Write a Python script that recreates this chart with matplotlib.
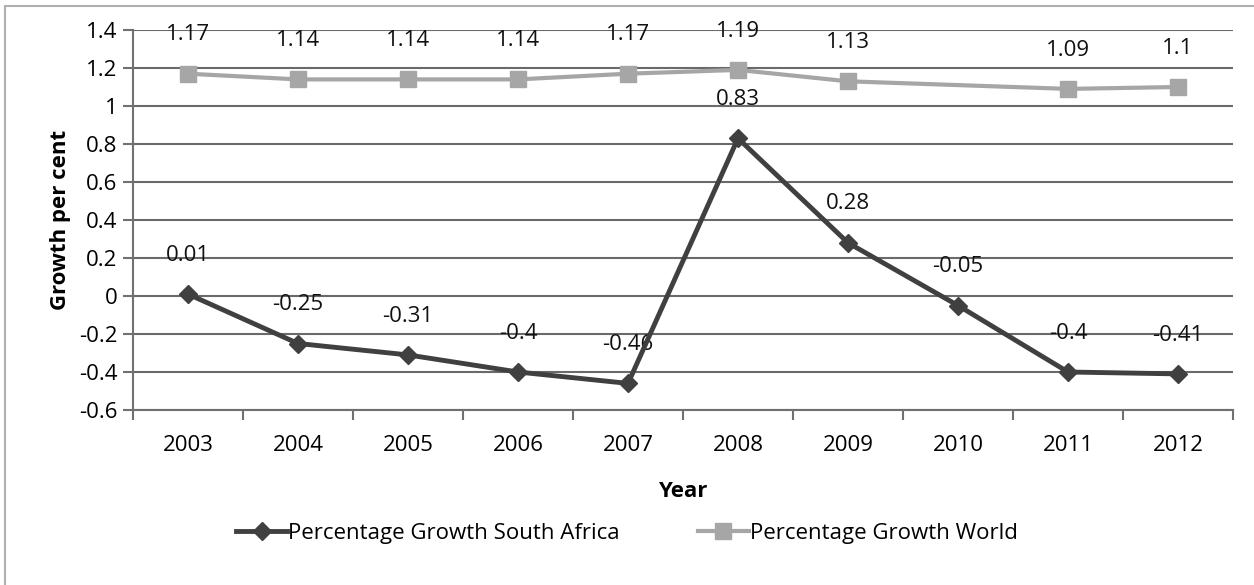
import matplotlib.pyplot as plt
from matplotlib.patches import Rectangle

years = ['2003', '2004', '2005', '2006', '2007', '2008', '2009', '2010', '2011', '2012']
south_africa = [0.01, -0.25, -0.31, -0.4, -0.46, 0.83, 0.28, -0.05, -0.4, -0.41]
world = [1.17, 1.14, 1.14, 1.14, 1.17, 1.19, 1.13, None, 1.09, 1.1]
world_line = [1.17, 1.14, 1.14, 1.14, 1.17, 1.19, 1.13, 1.11, 1.09, 1.1]
yticks = [-0.6, -0.4, -0.2, 0, 0.2, 0.4, 0.6, 0.8, 1, 1.2, 1.4]
ytick_labels = ['-0.6', '-0.4', '-0.2', '0', '0.2', '0.4', '0.6', '0.8', '1', '1.2', '1.4']

plt.rcParams['font.family'] = ['Open Sans', 'DejaVu Sans']
fs = 16

fig = plt.figure(figsize=(12.54, 5.85), dpi=100)
ax = fig.add_axes([133 / 1254, 1 - 410 / 585, 1100 / 1254, 380 / 585])

# border round the chart
fig.patches.append(Rectangle((5 / 1254, -0.01), 1.02, 1 - 6 / 585 + 0.01,
                             transform=fig.transFigure, fill=False,
                             edgecolor='#b0b0b0', linewidth=1.5))

x = list(range(len(years)))
dark = '#404040'
light = '#a6a6a6'

# world series: the 2010 point has no marker or label in the original
ax.plot(x, world_line, color=light, linewidth=3, zorder=3)
wx = [i for i, v in enumerate(world) if v is not None]
wy = [v for v in world if v is not None]
ax.plot(wx, wy, linestyle='none', marker='s', markersize=11, color=light, zorder=4)
ax.plot(x, south_africa, color=dark, linewidth=3.5, marker='D', markersize=9, zorder=5)

for i, v in enumerate(south_africa):
    ax.annotate(f'{v:g}', (i, v), xytext=(0, 28), textcoords='offset points',
                ha='center', va='center', fontsize=fs, color='#111111')
for i, v in zip(wx, wy):
    ax.annotate(f'{v:g}', (i, v), xytext=(0, 28), textcoords='offset points',
                ha='center', va='center', fontsize=fs, color='#111111')

ax.set_xlim(-0.5, len(years) - 0.5)
ax.set_ylim(-0.6, 1.4)
ax.set_yticks(yticks)
ax.set_yticklabels(ytick_labels, fontsize=fs)
ax.set_xticks(x)
ax.set_xticklabels(years, fontsize=fs)
ax.set_xticks([i + 0.5 for i in range(-1, len(years))], minor=True)
ax.tick_params(axis='x', which='major', length=0, pad=18)
ax.tick_params(axis='x', which='minor', length=7, width=1.5, color='#707070')
ax.tick_params(axis='y', length=7, width=1.5, color='#707070', pad=4)

ax.grid(axis='y', color='#6a6a6a', linewidth=1.5)
ax.set_axisbelow(True)
for s in ['top', 'right']:
    ax.spines[s].set_visible(False)
for s in ['left', 'bottom']:
    ax.spines[s].set_color('#707070')
    ax.spines[s].set_linewidth(1.5)

ax.set_xlabel('Year', fontsize=fs, fontweight='bold', labelpad=18)
ax.set_ylabel('Growth per cent', fontsize=fs, fontweight='bold', labelpad=6)

h1, = ax.plot([], [], color=dark, linewidth=3.5, marker='D', markersize=9)
h2, = ax.plot([], [], color=light, linewidth=3, marker='s', markersize=11)
fig.legend([h1, h2], ['Percentage Growth South Africa', 'Percentage Growth World'],
           loc='center', bbox_to_anchor=(0.5, 1 - 533 / 585), ncol=2, frameon=False,
           fontsize=fs, handlelength=2.3, columnspacing=3.5, handletextpad=0.05)

fig.savefig('out.png', dpi=100)
